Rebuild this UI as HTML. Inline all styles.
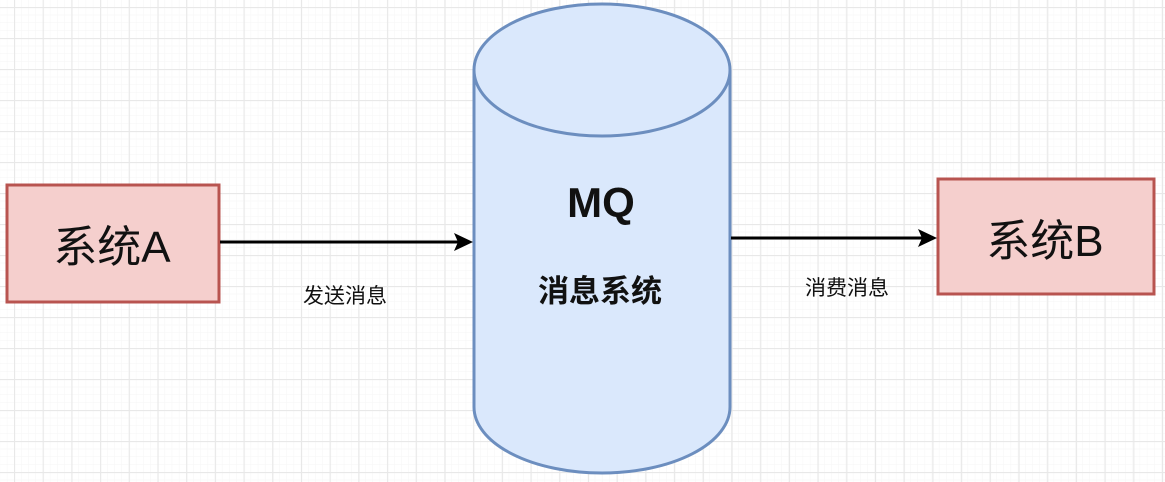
<!DOCTYPE html>
<html><head><meta charset="utf-8"><style>
html,body{margin:0;padding:0;background:#fff}
svg{display:block}
text{font-family:"Liberation Sans","Noto Sans CJK SC",sans-serif}
</style></head><body>
<svg width="1165" height="482" viewBox="0 0 1165 482" xmlns="http://www.w3.org/2000/svg">
<defs>
<pattern id="gmin" width="7.17" height="7.75" patternUnits="userSpaceOnUse" x="14" y="7">
<path d="M0 0H7.17M0 0V7.75" stroke="#f5f5f5" stroke-width="1" fill="none"/>
</pattern>
<pattern id="gmaj" width="28.7" height="31" patternUnits="userSpaceOnUse" x="14" y="7">
<path d="M0 0.5H28.7M0.5 0V31" stroke="#e8e8e8" stroke-width="1.2" fill="none"/>
</pattern>
</defs>
<rect width="1165" height="482" fill="#fff"/>
<rect width="1165" height="482" fill="url(#gmin)"/>
<rect width="1165" height="482" fill="url(#gmaj)"/>
<rect x="7" y="185" width="212" height="117" fill="#f5cfcd" stroke="#b85450" stroke-width="3"/>
<text x="112" y="262" font-size="44" text-anchor="middle" fill="#111">系统A</text>
<rect x="938" y="179" width="216" height="115" fill="#f5cfcd" stroke="#b85450" stroke-width="3"/>
<text x="1045" y="256" font-size="44" text-anchor="middle" fill="#111">系统B</text>
<path d="M474 70 V407 A128 66 0 0 0 730 407 V70" fill="#dae8fc" stroke="#6c8ebf" stroke-width="3"/>
<ellipse cx="602" cy="70" rx="128" ry="66" fill="#dae8fc" stroke="#6c8ebf" stroke-width="3"/>
<text x="601" y="217" font-size="42" font-weight="bold" text-anchor="middle" fill="#111">MQ</text>
<text x="600" y="302" font-size="31" font-weight="bold" text-anchor="middle" fill="#111">消息系统</text>
<line x1="220" y1="242" x2="458" y2="242" stroke="#000" stroke-width="3"/>
<polygon points="473,242 454,233 458,242 454,251" fill="#000"/>
<line x1="731" y1="238" x2="922" y2="238" stroke="#000" stroke-width="3"/>
<polygon points="937,238 918,229 922,238 918,247" fill="#000"/>
<text x="345" y="303" font-size="21" text-anchor="middle" fill="#111">发送消息</text>
<text x="847" y="295" font-size="21" text-anchor="middle" fill="#111">消费消息</text>
</svg>
</body></html>
